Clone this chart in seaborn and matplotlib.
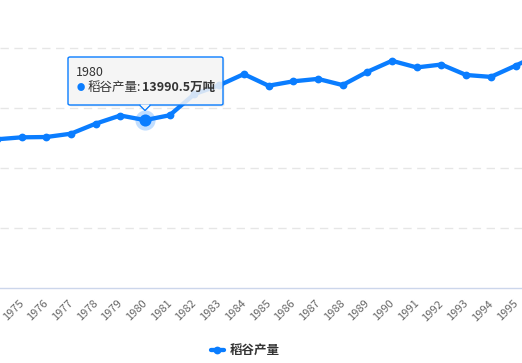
import numpy as np
import pandas as pd
import matplotlib
matplotlib.use("Agg")
import matplotlib.pyplot as plt
import matplotlib.transforms as mtrans
import seaborn as sns
from matplotlib.patches import FancyBboxPatch, Polygon

years = [1973, 1974, 1975, 1976, 1977, 1978, 1979, 1980, 1981, 1982, 1983, 1984,
         1985, 1986, 1987, 1988, 1989, 1990, 1991, 1992, 1993, 1994, 1995, 1996]
rice = [12174, 12391, 12556, 12581, 12857, 13693, 14375, 13990.5, 14396, 16160, 16887, 17826,
        16857, 17222, 17426, 16911, 18013, 18933, 18381, 18622, 17751, 17593, 18523, 19510]
tick_years = list(range(1975, 1997))
series_name = "稻谷产量"
hover_year = 1980
hover_value = 13990.5

color = "#0a7dff"
W, H = 522, 363

sns.set_theme(style="white")
plt.rcParams['font.family'] = ['Noto Sans CJK SC', 'DejaVu Sans']

fig = plt.figure(figsize=(W / 100, H / 100), dpi=100)
ax = fig.add_axes([0, (H - 288) / H, 1, 288 / H])

df = pd.DataFrame({"year": years, "value": rice})
sns.lineplot(data=df, x="year", y="value", ax=ax, color=color, linewidth=3.1,
             marker="o", markersize=5.6, markeredgewidth=0, label=series_name, legend=False)

# hovered point: halo + larger marker
ax.scatter([hover_year], [hover_value], s=210, color=color, alpha=0.25, linewidths=0, zorder=4)
ax.scatter([hover_year], [hover_value], s=76, color=color, linewidths=0, zorder=5)

ax.set_yticks([5000, 10000, 15000, 20000])
ax.yaxis.grid(True, color="#e6e6e6", linestyle=(0, (6, 4)), linewidth=1.0)
ax.xaxis.grid(False)
ax.set_yticklabels([])
ax.tick_params(axis="y", length=0)
ax.set_xticks(tick_years)
ax.set_xticklabels([str(y) for y in tick_years], rotation=45, ha="right", va="top",
                   rotation_mode="anchor", fontsize=8, color="#666666")
ax.tick_params(axis="x", length=0, pad=6)
shift = mtrans.ScaledTranslation(-0.03, -0.02, fig.dpi_scale_trans)
for lab in ax.get_xticklabels():
    lab.set_transform(lab.get_transform() + shift)

px_per_year = 24.7
ax.set_xlim(1975 - 21.5 / px_per_year, 1995 + (W - 515.5) / px_per_year)
ax.set_ylim(0, 288 * 5000 / 60)

for s in ["top", "left", "right"]:
    ax.spines[s].set_visible(False)
ax.spines["bottom"].set_color("#ccd6eb")
ax.spines["bottom"].set_linewidth(1.0)
ax.set_xlabel("")
ax.set_ylabel("")


def fp(x, y):
    return (x / W, 1 - y / H)

# Tooltip
x0, y0, x1, y1 = 68, 57, 223, 105
shadow = FancyBboxPatch(fp(x0 + 1.5, y1 + 1.5), (x1 - x0) / W, (y1 - y0) / H,
                        boxstyle="round,pad=0,rounding_size=0.004",
                        transform=fig.transFigure, facecolor=(0, 0, 0, 0.08),
                        edgecolor="none", zorder=9)
fig.add_artist(shadow)
box = FancyBboxPatch(fp(x0, y1), (x1 - x0) / W, (y1 - y0) / H,
                     boxstyle="round,pad=0,rounding_size=0.004",
                     transform=fig.transFigure, facecolor=(0.97, 0.97, 0.97, 0.85),
                     edgecolor=color, linewidth=1.0, zorder=10)
fig.add_artist(box)
tri = Polygon([fp(139.5, y1), fp(145, 110.5), fp(150.5, y1)], closed=False,
              transform=fig.transFigure, facecolor=(0.97, 0.97, 0.97, 1.0),
              edgecolor=color, linewidth=1.0, zorder=11)
fig.add_artist(tri)
fig.add_artist(Polygon([fp(140.3, y1 - 0.6), fp(145, 109), fp(149.7, y1 - 0.6)], closed=True,
                       transform=fig.transFigure, facecolor=(0.97, 0.97, 0.97, 1.0),
                       edgecolor="none", zorder=12))
fig.text(*fp(76, 72.5), str(hover_year), fontsize=9, color="#333333", va="center", ha="left", zorder=13)
fig.text(*fp(77, 87.5), "●", fontsize=6, color=color, va="center", ha="left", zorder=13)
fig.text(*fp(88, 87.5), series_name + ":", fontsize=9, color="#333333", va="center", ha="left", zorder=13)
fig.text(*fp(142, 87.5), f"{hover_value}万吨", fontsize=9, color="#333333", fontweight="bold",
         va="center", ha="left", zorder=13)

# Legend
handles, labels = ax.get_legend_handles_labels()
leg = fig.legend(handles, labels, loc="center", bbox_to_anchor=fp(245, 351), frameon=False,
                 handlelength=1.05, handletextpad=0.45, prop={"size": 9, "weight": "bold"})
for t in leg.get_texts():
    t.set_color("#333333")

fig.savefig("out.png", dpi=100)
